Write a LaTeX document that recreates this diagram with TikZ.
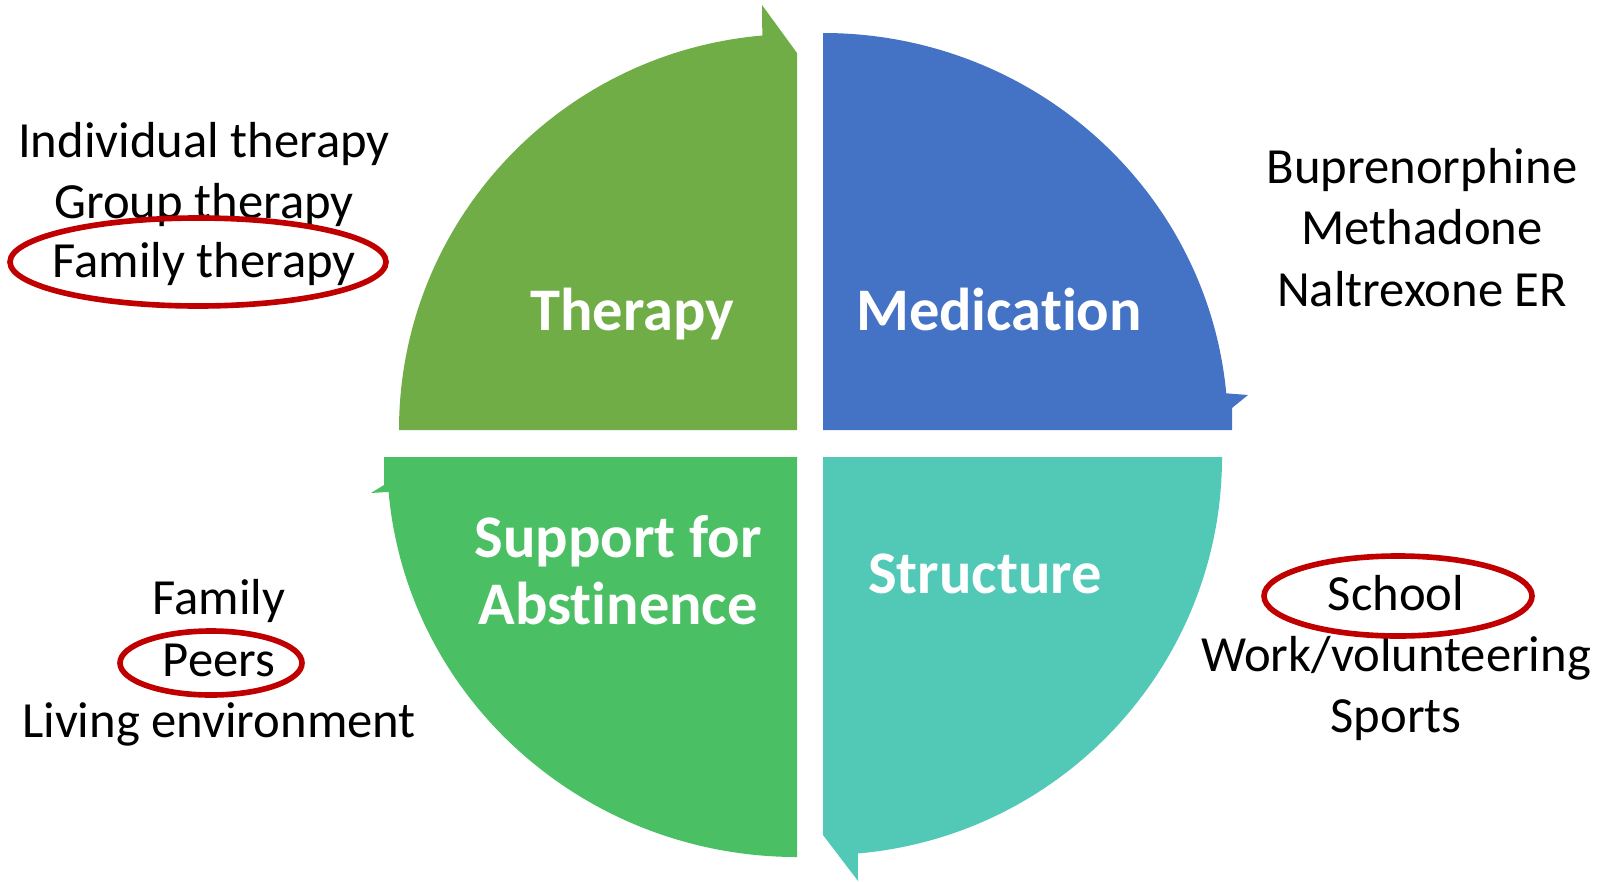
\documentclass[tikz,border=0pt]{standalone}
\usepackage{fontspec}
\setmainfont{Carlito}[Ligatures=NoCommon]
\definecolor{therapygreen}{RGB}{112,173,71}
\definecolor{medblue}{RGB}{68,114,196}
\definecolor{structteal}{RGB}{82,201,183}
\definecolor{supportgreen}{RGB}{74,191,99}
\definecolor{ringred}{RGB}{192,0,0}
\begin{document}
\begin{tikzpicture}[x=0.01cm, y=0.01cm,
    part/.style={font=\bfseries\fontsize{17.2}{19}\selectfont, text=white, anchor=base, inner sep=0pt},
    item/.style={font=\fontsize{14.4}{17.5}\selectfont, anchor=base, inner sep=0pt},
    ring/.style={draw=ringred, line width=1.6pt}]
    \useasboundingbox (0,0) rectangle (1604,881);
    % the four quarters
    \fill[therapygreen] (797,451) -- (399,451) arc[start angle=180, end angle=95, x radius=398, y radius=396] -- (762,876) -- (797,828) -- cycle;
    \fill[medblue] (823,451) -- (823,848) arc[start angle=90, end angle=5.3, x radius=405, y radius=397] -- (1248,486) -- (1232,473) -- (1232,451) -- cycle;
    \fill[structteal] (823,424) -- (1222,424) arc[start angle=0, end angle=-85, x radius=399, y radius=398] -- (858,0) -- (823,46) -- cycle;
    \fill[supportgreen] (797,424) -- (797,24) arc[start angle=270, end angle=185, x radius=410, y radius=400] -- (371,388) -- (384,396) -- (384,424) -- cycle;
    % quarter names
    \node[part] (therapy) at (632,551) {Therapy};
    \node[part] (medication) at (999,551) {Medication};
    \node[part] (support) at (618,324) {Support for};
    \node[part] (abstinence) at (618,257) {Abstinence};
    \node[part] (structure) at (985,288) {Structure};
    % lists
    \node[item] (individual) at (204,724) {Individual therapy};
    \node[item] (group) at (204,663) {Group therapy};
    \node[item] (familyth) at (204,604) {Family therapy};
    \node[item] (bupre) at (1422,698) {Buprenorphine};
    \node[item] (metha) at (1422,637) {Methadone};
    \node[item] (naltr) at (1422,575) {Naltrexone ER};
    \node[item] (family) at (219,267) {Family};
    \node[item] (peers) at (219,205) {Peers};
    \node[item] (living) at (219,144) {Living environment};
    \node[item] (school) at (1396,271) {School};
    \node[item] (work) at (1396,210) {Work/volunteering};
    \node[item] (sports) at (1396,149) {Sports};
    % red rings
    \draw[ring] (198,619) ellipse [x radius=188, y radius=44];
    \draw[ring] (211,218) ellipse [x radius=91, y radius=32];
    \draw[ring] (1398,285) ellipse [x radius=134, y radius=40];
\end{tikzpicture}
\end{document}
